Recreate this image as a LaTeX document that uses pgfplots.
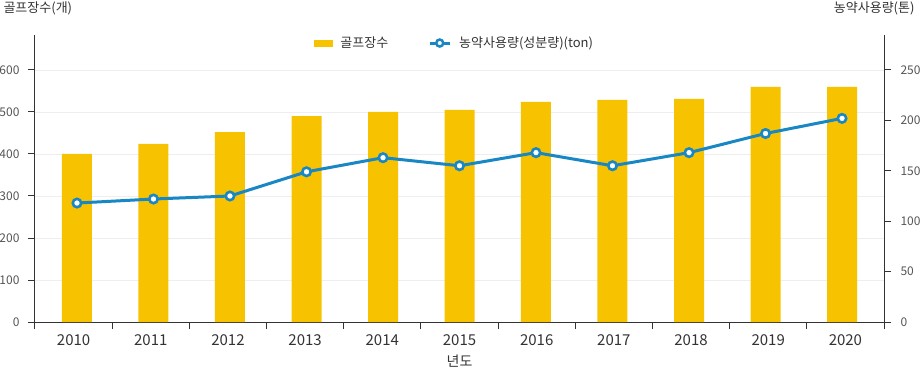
\documentclass[border=0pt]{standalone}
\usepackage{pgfplots}
\pgfplotsset{compat=1.18}
\usepackage{fontspec}
\setmainfont{Noto Sans CJK KR}
\definecolor{baryellow}{HTML}{F7C300}
\definecolor{lineblue}{HTML}{1A87C5}
\definecolor{axisgray}{HTML}{333333}
\definecolor{ticktext}{HTML}{555555}
\definecolor{gridgray}{HTML}{EEEEEE}
\begin{document}
\begin{tikzpicture}[x=1pt,y=1pt]
\path[use as bounding box] (0,0) rectangle (920,368);
\begin{axis}[
  scale only axis, width=849pt, height=287pt,
  at={(35pt,46pt)}, anchor=south west,
  xmin=-0.5, xmax=10.5, ymin=0, ymax=683.3,
  axis x line*=bottom, axis y line*=left,
  axis line style={draw=axisgray, line width=1pt, -},
  /pgf/number format/assume math mode=true,
  xtick={0,...,10},
  xticklabels={2010,2011,2012,2013,2014,2015,2016,2017,2018,2019,2020},
  major x tick style={draw=none},
  minor xtick={-0.5,0.5,...,10.5},
  minor x tick style={draw=axisgray, line width=1pt},
  minor tick length=7pt, major tick length=7pt,
  tick align=outside,
  ytick={0,100,...,600},
  ytick style={draw=axisgray, line width=1pt},
  ymajorgrids, major grid style={draw=gridgray, line width=0.8pt},
  yticklabel style={font=\fontsize{12}{14}\selectfont, text=ticktext, xshift=-5pt},
  xticklabel style={font=\fontsize{15}{17}\selectfont, text=axisgray, yshift=-2pt},
  xlabel={년도},
  xlabel style={at={(axis description cs:0.5,0)}, anchor=center, yshift=-39pt, font=\fontsize{14}{16}\selectfont, text=axisgray},
  every axis y label/.style={at={(axis description cs:0,1)}, anchor=west, xshift=-35pt, yshift=27pt, font=\fontsize{13}{15}\selectfont, text=axisgray},
  ylabel={골프장수(개)},
]
\addplot[ybar, bar width=30pt, fill=baryellow, draw=none] coordinates {
(0.044,400) (1.035,424) (2.026,452) (3.018,490) (4.009,500) (5.000,505) (5.991,524) (6.982,529) (7.974,531) (8.965,560) (9.956,560)
};
\end{axis}
\begin{axis}[
  scale only axis, width=849pt, height=287pt,
  at={(35pt,46pt)}, anchor=south west,
  xmin=-0.5, xmax=10.5, ymin=0, ymax=284.7,
  axis x line=none, axis y line*=right,
  axis line style={draw=axisgray, line width=1pt, -},
  /pgf/number format/assume math mode=true,
  ytick={0,50,...,250},
  major tick length=7pt, tick align=outside,
  ytick style={draw=axisgray, line width=1pt},
  yticklabel style={font=\fontsize{12}{14}\selectfont, text=ticktext, xshift=6pt},
  every axis y label/.style={at={(axis description cs:1,1)}, anchor=east, xshift=34pt, yshift=27pt, font=\fontsize{13}{15}\selectfont, text=axisgray},
  ylabel={농약사용량(톤)},
  legend style={at={(0.5,0.972)}, anchor=center, xshift=-5pt, draw=none, fill=none,
    font=\fontsize{13}{15}\selectfont, text=axisgray,
    /tikz/every odd column/.append style={column sep=6pt},
    /tikz/every even column/.append style={column sep=38pt}},
  legend columns=2,
]
\addlegendimage{legend image code/.code={\fill[baryellow] (0pt,-3pt) rectangle (18pt,3pt);}}
\addlegendentry{골프장수}
\addplot[lineblue, line width=3pt, mark=*, mark size=4.2pt,
  mark options={fill=white, draw=lineblue, line width=2.6pt},
  legend image code/.code={\draw[lineblue, line width=3pt] (0pt,0pt) -- (20pt,0pt);
    \draw[fill=white, draw=lineblue, line width=2.5pt] (10pt,0pt) circle (3.5pt);}]
coordinates {
(0.044,118) (1.035,122) (2.026,125) (3.018,149) (4.009,163) (5.000,155) (5.991,168) (6.982,155) (7.974,168) (8.965,187) (9.956,202)
};
\addlegendentry{농약사용량(성분량)(ton)}
\end{axis}
\end{tikzpicture}
\end{document}
